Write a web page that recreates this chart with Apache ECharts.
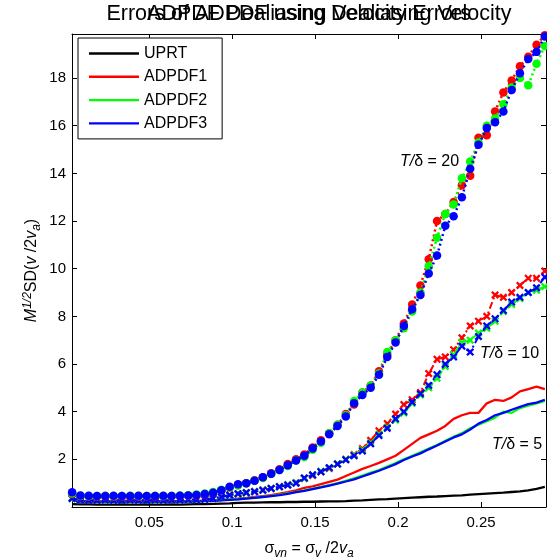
<!DOCTYPE html>
<html>
<head>
<meta charset="utf-8">
<script src="https://cdn.jsdelivr.net/npm/echarts@6/dist/echarts.min.js"></script>
<style>html,body{margin:0;padding:0;background:#fff;}#c{width:547px;height:560px;}</style>
</head>
<body>
<div id="c"></div>
<script>
const titleMain = 'Errors of ADPDF using Dealiasing Velocity';
const titleOverlay = 'ADPDF Dealiasing Velocity Errors';
const legendNames = ['UPRT', 'ADPDF1', 'ADPDF2', 'ADPDF3'];
const xTicks = [0.05, 0.1, 0.15, 0.2, 0.25];
const yTicks = [2, 4, 6, 8, 10, 12, 14, 16, 18];
const annotations = ['20', '10', '5'];

const xVals = [0.0035,0.0085,0.0135,0.0185,0.0235,0.0285,0.0335,0.0385,0.0435,0.0485,
  0.0535,0.0585,0.0635,0.0685,0.0735,0.0785,0.0835,0.0885,0.0935,0.0985,
  0.1035,0.1085,0.1135,0.1185,0.1235,0.1285,0.1335,0.1385,0.1435,0.1485,
  0.1535,0.1585,0.1635,0.1685,0.1735,0.1785,0.1835,0.1885,0.1935,0.1985,
  0.2035,0.2085,0.2135,0.2185,0.2235,0.2285,0.2335,0.2385,0.2435,0.2485,
  0.2535,0.2585,0.2635,0.2685,0.2735,0.2785,0.2835,0.2885];

const uprt = [0.12,0.11,0.11,0.1,0.1,0.1,0.11,0.1,0.1,0.11,0.1,0.1,0.11,0.1,0.11,0.12,
  0.12,0.13,0.14,0.15,0.17,0.18,0.18,0.19,0.2,0.2,0.21,0.21,0.22,0.22,0.23,0.24,0.24,0.25,
  0.27,0.28,0.3,0.32,0.33,0.35,0.37,0.39,0.41,0.43,0.44,0.46,0.48,0.49,0.52,0.54,0.56,0.58,
  0.6,0.63,0.66,0.7,0.76,0.84];

const adpdf1T5 = [0.28,0.25,0.24,0.24,0.23,0.25,0.27,0.26,0.24,0.23,0.24,0.23,0.24,0.25,0.25,0.26,
  0.27,0.28,0.3,0.32,0.35,0.38,0.42,0.46,0.5,0.56,0.62,0.7,0.8,0.87,0.96,1.05,1.15,1.3,1.45,1.6,
  1.72,1.85,2.0,2.15,2.4,2.65,2.9,3.05,3.2,3.4,3.7,3.85,3.95,3.95,4.35,4.5,4.45,4.6,4.85,4.95,5.05,4.95];
const adpdf2T5 = [0.26,0.24,0.22,0.22,0.23,0.22,0.22,0.22,0.23,0.22,0.22,0.23,0.22,0.23,0.24,0.25,
  0.26,0.27,0.29,0.31,0.33,0.36,0.39,0.43,0.47,0.52,0.57,0.63,0.7,0.77,0.84,0.92,1.0,1.1,1.2,1.32,
  1.44,1.55,1.7,1.84,2.0,2.15,2.3,2.45,2.6,2.78,2.95,3.1,3.3,3.45,3.6,3.75,4.0,3.95,4.15,4.25,4.35,4.45];
const adpdf3T5 = [0.27,0.24,0.23,0.22,0.22,0.23,0.22,0.23,0.22,0.22,0.23,0.22,0.23,0.23,0.24,0.24,
  0.25,0.26,0.28,0.3,0.32,0.35,0.38,0.42,0.46,0.5,0.55,0.62,0.68,0.75,0.82,0.9,0.98,1.07,1.16,1.28,
  1.4,1.52,1.66,1.8,1.97,2.12,2.25,2.42,2.58,2.75,2.92,3.05,3.25,3.5,3.65,3.85,3.95,4.08,4.2,4.32,4.38,4.5];

const adpdf1T10 = [0.38,0.3,0.3,0.29,0.3,0.29,0.3,0.3,0.29,0.3,0.3,0.3,0.31,0.3,0.31,0.32,
  0.33,0.37,0.42,0.5,0.55,0.6,0.65,0.72,0.78,0.86,0.93,1.02,1.2,1.32,1.48,1.62,1.8,2.0,2.2,2.45,
  2.8,3.2,3.5,3.9,4.3,4.5,4.8,5.6,6.2,6.3,6.6,7.1,7.6,7.8,8.0,8.9,8.8,9.0,9.3,9.6,9.6,9.9];
const adpdf2T10 = [0.35,0.3,0.29,0.29,0.28,0.29,0.29,0.28,0.29,0.29,0.28,0.29,0.29,0.3,0.3,0.31,
  0.33,0.37,0.43,0.49,0.55,0.6,0.65,0.71,0.78,0.85,0.93,1.02,1.2,1.34,1.5,1.64,1.82,2.0,2.18,2.4,
  2.7,3.05,3.35,3.65,3.95,4.35,4.7,5.0,5.4,5.9,6.4,6.9,7.0,7.3,7.5,7.8,8.2,8.5,8.75,9.0,9.1,9.25];
const adpdf3T10 = [0.36,0.29,0.28,0.28,0.29,0.28,0.28,0.29,0.28,0.28,0.29,0.28,0.29,0.29,0.3,0.3,
  0.32,0.36,0.42,0.5,0.56,0.6,0.64,0.7,0.78,0.85,0.92,1.0,1.22,1.35,1.48,1.65,1.8,1.98,2.15,2.35,
  2.65,3.0,3.3,3.7,4.0,4.4,4.75,5.1,5.55,6.0,6.3,6.75,6.5,7.15,7.6,7.9,8.25,8.6,8.8,9.0,9.2,9.65];

const adpdf1T20 = [0.55,0.45,0.44,0.44,0.45,0.44,0.45,0.44,0.44,0.45,0.44,0.45,0.45,0.46,0.47,0.49,
  0.54,0.6,0.7,0.82,0.92,1.0,1.12,1.25,1.42,1.58,1.8,2.0,2.2,2.5,2.8,3.1,3.45,3.9,4.3,4.8,
  5.1,5.7,6.4,7.0,7.7,8.5,9.3,10.4,12.0,12.3,12.8,13.5,13.9,15.5,15.6,16.6,17.4,17.9,18.5,18.9,19.4,19.8];
const adpdf2T20 = [0.58,0.47,0.46,0.46,0.47,0.46,0.46,0.47,0.46,0.46,0.47,0.46,0.47,0.48,0.49,0.52,
  0.57,0.63,0.72,0.83,0.9,1.0,1.1,1.22,1.38,1.55,1.72,1.95,2.1,2.4,2.7,3.1,3.45,3.85,4.45,4.8,
  5.1,5.6,6.5,7.0,7.5,8.2,9.0,10.1,11.3,12.3,12.7,13.8,14.5,15.3,16.0,16.3,16.9,17.6,18.0,17.7,18.6,19.35];
const adpdf3T20 = [0.62,0.48,0.47,0.46,0.46,0.47,0.46,0.46,0.47,0.46,0.46,0.47,0.46,0.47,0.48,0.5,
  0.55,0.6,0.7,0.85,0.95,1.0,1.1,1.25,1.4,1.55,1.75,1.95,2.15,2.45,2.75,3.05,3.4,3.8,4.35,4.7,
  5.0,5.55,6.3,6.9,7.6,8.3,8.9,9.8,10.55,11.8,12.2,13.0,14.2,15.2,15.9,16.15,16.6,17.5,18.2,18.8,19.1,19.75];

const FONT = 'Liberation Sans, Arial, sans-serif';
const RED = '#ff0000', GREEN = '#00ff00', BLUE = '#0000ff', BLACK = '#000000';
const XSYM = 'path://M0,2 L2,0 L5,3 L8,0 L10,2 L7,5 L10,8 L8,10 L5,7 L2,10 L0,8 L3,5 Z';

function pairs(ys) { return xVals.map((x, i) => [x, ys[i]]); }

function solid(name, color, ys) {
  return { name, type: 'line', data: pairs(ys), showSymbol: false, symbol: 'none',
    lineStyle: { color, width: 2.3, type: 'solid' }, itemStyle: { color }, z: 2 };
}
function dashDotX(name, color, ys) {
  return { name, type: 'line', data: pairs(ys), symbol: XSYM, symbolSize: 8,
    lineStyle: { color, width: 2, type: [7, 3, 2, 3] }, itemStyle: { color, borderWidth: 0 }, z: 3 };
}
function dottedDot(name, color, ys) {
  return { name, type: 'line', data: pairs(ys), symbol: 'circle', symbolSize: 8.5,
    lineStyle: { color, width: 2.5, type: [2, 3] }, itemStyle: { color, borderWidth: 0 }, z: 4 };
}

const series = [
  solid('UPRT', BLACK, uprt),
  solid('ADPDF1', RED, adpdf1T5),
  dashDotX('ADPDF1 T10', RED, adpdf1T10),
  dottedDot('ADPDF1 T20', RED, adpdf1T20),
  solid('ADPDF2', GREEN, adpdf2T5),
  dashDotX('ADPDF2 T10', GREEN, adpdf2T10),
  dottedDot('ADPDF2 T20', GREEN, adpdf2T20),
  solid('ADPDF3', BLUE, adpdf3T5),
  dashDotX('ADPDF3 T10', BLUE, adpdf3T10),
  dottedDot('ADPDF3 T20', BLUE, adpdf3T20)
];
series.forEach((s, i) => { s.z = 2 + i * 0.01 + (s.z - 2); s.animation = false; s.clip = true; });

const XMIN = 0.00343, XMAX = 0.2892, YMIN = 0, YMAX = 19.85;
const fmt = v => String(+(+v).toFixed(4));

function xAx(pos, labels) {
  return { type: 'value', position: pos, min: XMIN, max: XMAX,
    axisLine: { show: true, onZero: false, lineStyle: { color: '#000', width: 1 } },
    axisTick: { show: true, inside: true, length: 5, customValues: xTicks, lineStyle: { color: '#000', width: 1 } },
    axisLabel: { show: labels, customValues: xTicks, margin: 8, fontSize: 15, color: '#000', fontFamily: FONT, formatter: fmt },
    splitLine: { show: false } };
}
function yAx(pos, labels) {
  return { type: 'value', position: pos, min: YMIN, max: YMAX,
    axisLine: { show: true, onZero: false, lineStyle: { color: '#000', width: 1 } },
    axisTick: { show: true, inside: true, length: 5, customValues: yTicks, lineStyle: { color: '#000', width: 1 } },
    axisLabel: { show: labels, customValues: yTicks, margin: 6, fontSize: 15, color: '#000', fontFamily: FONT, formatter: fmt },
    splitLine: { show: false } };
}

const tStyle = { fontSize: 21.5, fontWeight: 'normal', color: '#000', fontFamily: FONT };
const richBase = {
  n: { fontSize: 16, fontFamily: FONT, fill: '#000' },
  it: { fontSize: 16, fontFamily: FONT, fontStyle: 'italic', fill: '#000' },
  sub: { fontSize: 12, fontFamily: FONT, fontStyle: 'italic', fill: '#000', padding: [9, 0, 0, 0] },
  sup: { fontSize: 12, fontFamily: FONT, fontStyle: 'italic', fill: '#000', padding: [0, 0, 9, 0] }
};
function annot(x, y, label) {
  return { type: 'text', x, y, z: 50, style: { text: '{it|T/}{n|δ = ' + label + '}', align: 'left', verticalAlign: 'middle', rich: richBase } };
}

const option = {
  animation: false,
  backgroundColor: '#fff',
  title: [
    { text: titleMain, left: 309, top: 3, textAlign: 'center', padding: 0, textStyle: tStyle },
    { text: titleOverlay, left: 309, top: 3, textAlign: 'center', padding: 0, textStyle: tStyle }
  ],
  grid: { left: 72, right: 1, top: 34, bottom: 53, containLabel: false },
  xAxis: [xAx('bottom', true), xAx('top', false)],
  yAxis: [yAx('left', true), yAx('right', false)],
  legend: {
    data: legendNames.map(n => ({ name: n, icon: 'rect' })),
    orient: 'vertical', left: 78, top: 38,
    itemWidth: 50, itemHeight: 2.4, itemGap: 7.3,
    padding: [7.5, 15, 7.5, 11],
    backgroundColor: '#fff', borderColor: '#000', borderWidth: 1, borderRadius: 0,
    textStyle: { fontSize: 16, lineHeight: 16, color: '#000', fontFamily: FONT },
    itemStyle: { borderWidth: 0 },
    selectedMode: false, z: 20
  },
  graphic: [
    { type: 'text', x: 309, y: 549, z: 50, style: { text: '{n|σ}{sub|vn}{n| = σ}{sub|v}{n| /2}{it|v}{sub|a}', align: 'center', verticalAlign: 'middle', rich: richBase } },
    { type: 'text', x: 32, y: 270.5, rotation: Math.PI / 2, z: 50, style: { text: '{it|M}{sup|1/2}{n|SD(}{it|v}{n| /2}{it|v}{sub|a}{n|)}', align: 'center', verticalAlign: 'middle', rich: richBase } },
    annot(400, 161.7, annotations[0]),
    annot(480, 353.3, annotations[1]),
    annot(492, 445, annotations[2])
  ],
  series
};

const chart = echarts.init(document.getElementById('c'), null, { renderer: 'canvas' });
chart.setOption(option);
</script>
</body>
</html>
